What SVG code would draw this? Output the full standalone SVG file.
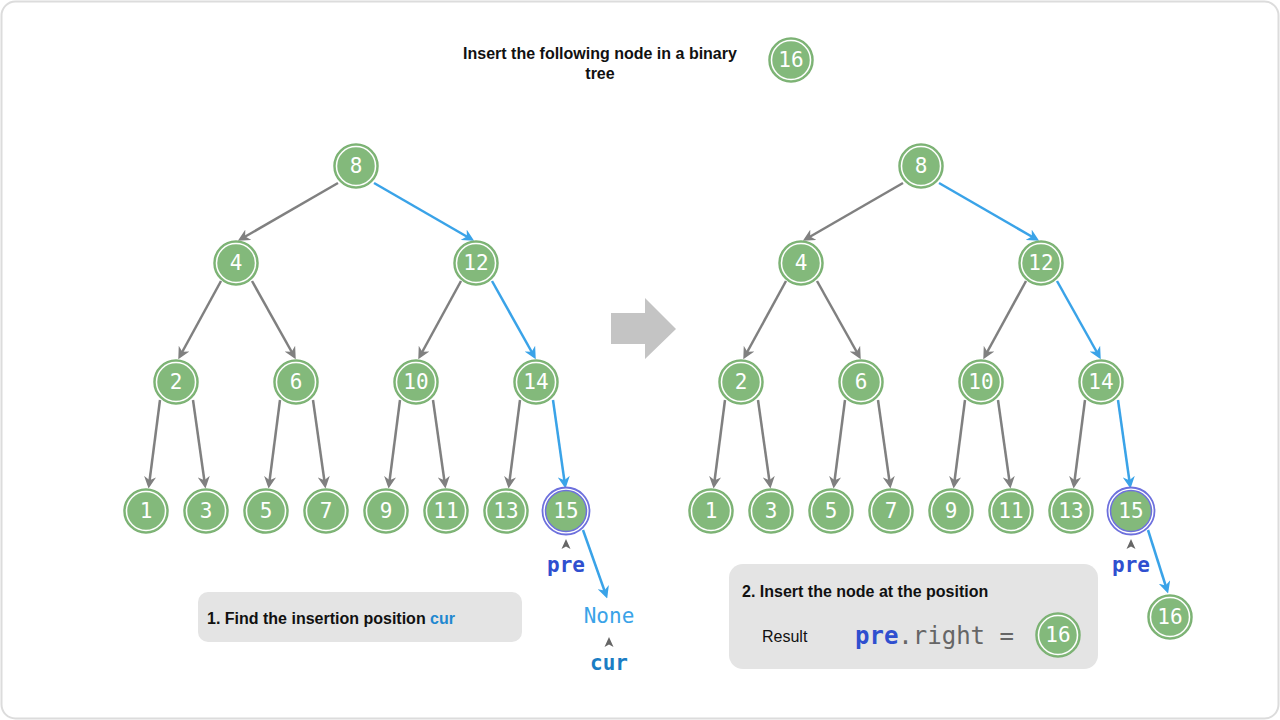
<svg xmlns="http://www.w3.org/2000/svg" width="1280" height="720" viewBox="0 0 1280 720">
<defs>
<marker id="ag" viewBox="0 0 10 10" refX="7" refY="5" markerWidth="12" markerHeight="12" markerUnits="userSpaceOnUse" orient="auto"><path d="M0,0 L10,5 L0,10 L3,5 z" fill="#808080"/></marker>
<marker id="ab" viewBox="0 0 10 10" refX="7" refY="5" markerWidth="12" markerHeight="12" markerUnits="userSpaceOnUse" orient="auto"><path d="M0,0 L10,5 L0,10 L3,5 z" fill="#3aa3e8"/></marker>
<style>
.n text{font-family:"DejaVu Sans Mono",monospace;font-size:21px;fill:#fff;text-anchor:middle;dominant-baseline:central}
.g{stroke:#808080;stroke-width:2.5;fill:none;marker-end:url(#ag)}
.b{stroke:#3aa3e8;stroke-width:2.5;fill:none;marker-end:url(#ab)}
.lbl{font-family:"Liberation Sans",Arial,sans-serif;font-weight:bold;font-size:16px;fill:#111}
.mono{font-family:"DejaVu Sans Mono",monospace}
.caret{fill:#666}
</style>
<g id="nd">
<circle cx="0" cy="0" r="22" fill="#83b97b" stroke="#7bb173" stroke-width="1.5"/><circle cx="0" cy="0" r="19.5" fill="none" stroke="#ffffff" stroke-width="1.5"/>
</g>
</defs>
<rect x="1.5" y="1.5" width="1277" height="717" rx="14" fill="#fff" stroke="#dcdcdc" stroke-width="2"/>
<g id="title">
<text class="lbl" x="600" y="59" text-anchor="middle">Insert the following node in a binary</text>
<text class="lbl" x="600" y="79" text-anchor="middle">tree</text>
</g>
<g id="arrow-big"><path d="M611,313 H645 V298 L676,329 L645,359 V344 H611 z" fill="#c4c4c4"/></g>
<g id="box1">
<rect x="198" y="592" width="324" height="50" rx="10" fill="#e4e4e4"/>
<text class="lbl" x="207" y="624">1. Find the insertion position <tspan fill="#1f88d0">cur</tspan></text>
</g>
<g id="box2">
<rect x="729" y="564" width="369" height="105" rx="14" fill="#e4e4e4"/>
<text class="lbl" x="742" y="597">2. Insert the node at the position</text>
<text x="762" y="642" style="font-family:'Liberation Sans',Arial,sans-serif;font-size:16px;fill:#111">Result</text>
<text class="mono" x="855" y="644" style="font-size:24px;fill:#666"><tspan fill="#2f4fcf" font-weight="bold">pre</tspan>.right =</text>
</g>
<g id="connectors">
<line class="g" x1="338" y1="183" x2="241" y2="239"/>
<line class="b" x1="374" y1="183" x2="471" y2="239"/>
<line class="g" x1="221" y1="281" x2="180" y2="356"/>
<line class="g" x1="252" y1="281" x2="294" y2="356"/>
<line class="g" x1="461" y1="281" x2="420" y2="356"/>
<line class="b" x1="492" y1="281" x2="534" y2="356"/>
<line class="g" x1="160" y1="400" x2="149" y2="485"/>
<line class="g" x1="193" y1="400" x2="205" y2="485"/>
<line class="g" x1="280" y1="400" x2="269" y2="485"/>
<line class="g" x1="313" y1="400" x2="325" y2="485"/>
<line class="g" x1="400" y1="400" x2="389" y2="485"/>
<line class="g" x1="433" y1="400" x2="445" y2="485"/>
<line class="g" x1="520" y1="400" x2="509" y2="485"/>
<line class="b" x1="553" y1="400" x2="565" y2="485"/>
<line class="b" x1="583" y1="530" x2="606" y2="595"/>
<line class="g" x1="903" y1="183" x2="806" y2="239"/>
<line class="b" x1="939" y1="183" x2="1036" y2="239"/>
<line class="g" x1="786" y1="281" x2="745" y2="356"/>
<line class="g" x1="817" y1="281" x2="859" y2="356"/>
<line class="g" x1="1026" y1="281" x2="985" y2="356"/>
<line class="b" x1="1057" y1="281" x2="1099" y2="356"/>
<line class="g" x1="725" y1="400" x2="714" y2="485"/>
<line class="g" x1="758" y1="400" x2="770" y2="485"/>
<line class="g" x1="845" y1="400" x2="834" y2="485"/>
<line class="g" x1="878" y1="400" x2="890" y2="485"/>
<line class="g" x1="965" y1="400" x2="954" y2="485"/>
<line class="g" x1="998" y1="400" x2="1010" y2="485"/>
<line class="g" x1="1085" y1="400" x2="1074" y2="485"/>
<line class="b" x1="1118" y1="400" x2="1130" y2="485"/>
<line class="b" x1="1148" y1="530" x2="1167" y2="590"/>
</g>
<g id="labels">
<path class="caret" d="M566,539 L570.5,549 L566,546.5 L561.5,549 z"/>
<text class="mono" x="566" y="572" text-anchor="middle" style="font-size:21px;font-weight:bold;fill:#2f4fcf">pre</text>
<text class="mono" x="609" y="623" text-anchor="middle" style="font-size:21px;fill:#3aa3e8">None</text>
<path class="caret" d="M609,637 L613.5,647 L609,644.5 L604.5,647 z"/>
<text class="mono" x="609" y="670" text-anchor="middle" style="font-size:21px;font-weight:bold;fill:#1a7dc4">cur</text>
<path class="caret" d="M1131,539 L1135.5,549 L1131,546.5 L1126.5,549 z"/>
<text class="mono" x="1131" y="572" text-anchor="middle" style="font-size:21px;font-weight:bold;fill:#2f4fcf">pre</text>
</g>
<g id="node-top16" class="n"><use href="#nd" x="791" y="60"/><text x="791" y="60">16</text></g>
<g id="L8" class="n"><use href="#nd" x="356" y="166"/><text x="356" y="166">8</text></g>
<g id="L4" class="n"><use href="#nd" x="236" y="263"/><text x="236" y="263">4</text></g>
<g id="L12" class="n"><use href="#nd" x="476" y="263"/><text x="476" y="263">12</text></g>
<g id="L2" class="n"><use href="#nd" x="176" y="382"/><text x="176" y="382">2</text></g>
<g id="L6" class="n"><use href="#nd" x="296" y="382"/><text x="296" y="382">6</text></g>
<g id="L10" class="n"><use href="#nd" x="416" y="382"/><text x="416" y="382">10</text></g>
<g id="L14" class="n"><use href="#nd" x="536" y="382"/><text x="536" y="382">14</text></g>
<g id="L1" class="n"><use href="#nd" x="146" y="511"/><text x="146" y="511">1</text></g>
<g id="L3" class="n"><use href="#nd" x="206" y="511"/><text x="206" y="511">3</text></g>
<g id="L5" class="n"><use href="#nd" x="266" y="511"/><text x="266" y="511">5</text></g>
<g id="L7" class="n"><use href="#nd" x="326" y="511"/><text x="326" y="511">7</text></g>
<g id="L9" class="n"><use href="#nd" x="386" y="511"/><text x="386" y="511">9</text></g>
<g id="L11" class="n"><use href="#nd" x="446" y="511"/><text x="446" y="511">11</text></g>
<g id="L13" class="n"><use href="#nd" x="506" y="511"/><text x="506" y="511">13</text></g>
<g id="L15" class="n"><circle cx="566" cy="511" r="23.5" fill="#fff" stroke="#6d70dd" stroke-width="1.8"/><circle cx="566" cy="511" r="20.5" fill="#83b97b" stroke="#6d70dd" stroke-width="1.5"/><text x="566" y="511">15</text></g>
<g id="R8" class="n"><use href="#nd" x="921" y="166"/><text x="921" y="166">8</text></g>
<g id="R4" class="n"><use href="#nd" x="801" y="263"/><text x="801" y="263">4</text></g>
<g id="R12" class="n"><use href="#nd" x="1041" y="263"/><text x="1041" y="263">12</text></g>
<g id="R2" class="n"><use href="#nd" x="741" y="382"/><text x="741" y="382">2</text></g>
<g id="R6" class="n"><use href="#nd" x="861" y="382"/><text x="861" y="382">6</text></g>
<g id="R10" class="n"><use href="#nd" x="981" y="382"/><text x="981" y="382">10</text></g>
<g id="R14" class="n"><use href="#nd" x="1101" y="382"/><text x="1101" y="382">14</text></g>
<g id="R1" class="n"><use href="#nd" x="711" y="511"/><text x="711" y="511">1</text></g>
<g id="R3" class="n"><use href="#nd" x="771" y="511"/><text x="771" y="511">3</text></g>
<g id="R5" class="n"><use href="#nd" x="831" y="511"/><text x="831" y="511">5</text></g>
<g id="R7" class="n"><use href="#nd" x="891" y="511"/><text x="891" y="511">7</text></g>
<g id="R9" class="n"><use href="#nd" x="951" y="511"/><text x="951" y="511">9</text></g>
<g id="R11" class="n"><use href="#nd" x="1011" y="511"/><text x="1011" y="511">11</text></g>
<g id="R13" class="n"><use href="#nd" x="1071" y="511"/><text x="1071" y="511">13</text></g>
<g id="R15" class="n"><circle cx="1131" cy="511" r="23.5" fill="#fff" stroke="#6d70dd" stroke-width="1.8"/><circle cx="1131" cy="511" r="20.5" fill="#83b97b" stroke="#6d70dd" stroke-width="1.5"/><text x="1131" y="511">15</text></g>
<g id="R16" class="n"><use href="#nd" x="1170" y="617"/><text x="1170" y="617">16</text></g>
<g id="res16" class="n"><use href="#nd" x="1058" y="635"/><text x="1058" y="635">16</text></g>
</svg>
